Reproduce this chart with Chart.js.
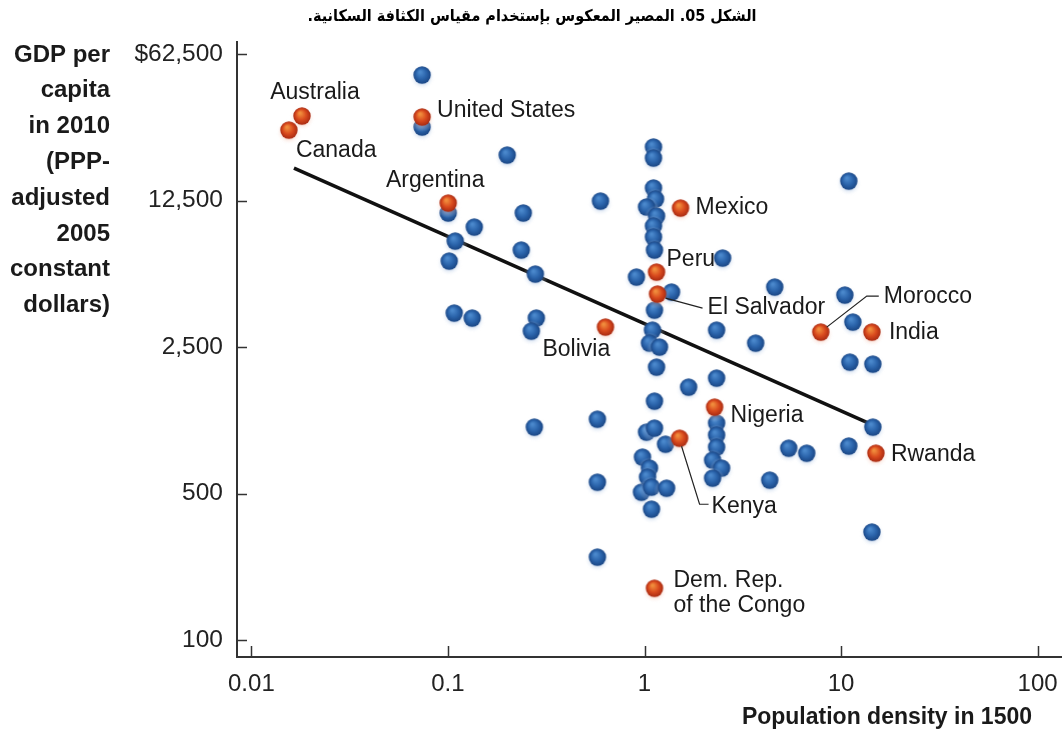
<!DOCTYPE html>
<html>
<head>
<meta charset="utf-8">
<script src="https://cdn.jsdelivr.net/npm/chart.js@4.4.1/dist/chart.umd.min.js"></script>
<style>
  html, body { margin: 0; padding: 0; background: #fff; }
  #wrap { width: 1064px; height: 740px; position: relative; }
</style>
</head>
<body>
<div id="wrap"><canvas id="densityChart" width="1064" height="740"></canvas></div>
<script>
// Achsen
var chartTitle = 'الشكل 05. المصير المعكوس بإستخدام مقياس الكثافة السكانية.';
var yTitleLines = ['GDP per', 'capita', 'in 2010', '(PPP-', 'adjusted', '2005', 'constant', 'dollars)'];
var xTitle = 'Population density in 1500';
var xTicks = [0.01, 0.1, 1, 10, 100];
var xTickLabels = ['0.01', '0.1', '1', '10', '100'];
var yTicks = [100, 500, 2500, 12500, 62500];
var yTickLabels = ['100', '500', '2,500', '12,500', '$62,500'];

// Laender ohne Beschriftung (blau)
var blueX = [0.0739, 0.0739, 0.2003, 1.111, 1.111, 1.111, 1.138, 1.024, 1.151, 1.111,
  1.111, 1.124, 0.597, 0.2417, 0.1003, 0.1361, 0.1089, 0.2361, 0.1015, 0.2783,
  0.9104, 0.1076, 0.1329, 0.2816, 0.2656, 2.497, 1.373, 1.124, 1.098, 1.060,
  1.192, 1.151, 4.597, 10.45, 11.48, 2.327, 3.678, 11.08, 14.51, 10.95,
  1.676, 2.327, 1.124, 14.51, 10.95, 5.418, 6.69, 4.335, 0.2751, 0.5761,
  1.024, 1.124, 1.279, 2.327, 2.327, 2.327, 2.221, 2.468, 2.221, 0.5761,
  0.9768, 1.060, 1.036, 0.9654, 1.086, 1.295, 1.086, 0.5761, 14.35];
var blueY = [49620, 28020, 20600, 22500, 19930, 14340, 12700, 11640, 10540, 9445,
  8370, 7257, 12430, 10900, 10900, 9342, 8010, 7257, 6430, 5574,
  5394, 3632, 3438, 3438, 2980, 6644, 4574, 3753, 3013, 2612,
  2500, 2007, 4833, 4426, 3290, 3013, 2612, 2120, 2074, 15480,
  1611, 1778, 1381, 1038, 843, 824, 780, 580, 1038, 1133,
  983, 1027, 861, 1085, 951, 833, 722, 662, 593, 567,
  747, 662, 599, 508, 537, 531, 422, 249, 328];

// Beschriftete Laender (rot)
var redNames = ['Australia', 'Canada', 'United States', 'Argentina', 'Mexico', 'Peru',
  'El Salvador', 'Bolivia', 'Morocco', 'India', 'Nigeria', 'Kenya', 'Rwanda',
  'Dem. Rep.\nof the Congo'];
var redX = [0.01809, 0.01552, 0.0739, 0.1003, 1.525, 1.151, 1.165, 0.633, 7.885, 14.35,
  2.273, 1.508, 15.04, 1.124];
var redY = [31620, 27100, 31280, 12160, 11510, 5698, 4476, 3114, 2948, 2948,
  1293, 919, 780, 177];

// Regressionsgerade
var fitX = [0.01647, 15.75];
var fitY = [17860, 1027];

// Platzierung der Beschriftungen (Pixelversatz zum Punkt)
var labelPlacement = {
  'Australia': { dx: 13, dy: -23, align: 'center' },
  'Canada': { dx: 7, dy: 21, align: 'left' },
  'United States': { dx: 15, dy: -6, align: 'left' },
  'Argentina': { dx: -13, dy: -22, align: 'center' },
  'Mexico': { dx: 15, dy: 0, align: 'left' },
  'Peru': { dx: 10, dy: -12, align: 'left' },
  'El Salvador': { dx: 50, dy: 14, align: 'left', leader: [[8, 4], [45, 14]] },
  'Bolivia': { dx: -63, dy: 23, align: 'left' },
  'Morocco': { dx: 63, dy: -35, align: 'left', leader: [[6, -5], [46, -36], [58, -36]] },
  'India': { dx: 17, dy: 1, align: 'left' },
  'Nigeria': { dx: 16, dy: 8, align: 'left' },
  'Kenya': { dx: 32, dy: 68, align: 'left', leader: [[2, 8], [20, 66], [29, 66]] },
  'Rwanda': { dx: 15, dy: 1, align: 'left' },
  'Dem. Rep.\nof the Congo': { dx: 19, dy: -8, align: 'left' }
};

var FONT = "'Liberation Sans', Arial, Helvetica, sans-serif";

// Kugel-Symbol zeichnen
function makeBall(light, mid, dark, halo) {
  var c = document.createElement('canvas');
  c.width = 30; c.height = 30;
  var g = c.getContext('2d');
  var h = g.createRadialGradient(15, 17, 5, 15, 17, 13);
  h.addColorStop(0, halo);
  h.addColorStop(1, 'rgba(255,255,255,0)');
  g.fillStyle = h;
  g.fillRect(0, 0, 30, 30);
  var grad = g.createRadialGradient(13, 12, 1, 15, 15, 8.8);
  grad.addColorStop(0, light);
  grad.addColorStop(0.55, mid);
  grad.addColorStop(1, dark);
  g.beginPath();
  g.arc(15, 15, 8.7, 0, Math.PI * 2);
  g.fillStyle = grad;
  g.fill();
  return c;
}

var blueBall = makeBall('#4a88cc', '#2a63aa', '#1a4684', 'rgba(110,150,205,0.45)');
var redBall = makeBall('#f08c3c', '#d8491d', '#a82a12', 'rgba(235,150,120,0.45)');

function toPoints(xs, ys) {
  return xs.map(function(x, i) { return { x: x, y: ys[i] }; });
}

// Texte, Ticks und Beschriftungen
var decorPlugin = {
  id: 'decor',
  afterDatasetsDraw: function(chart) {
    var ctx = chart.ctx;
    var xs = chart.scales.x, ys = chart.scales.y;
    var area = chart.chartArea;
    ctx.save();

    // Ticks nach innen
    ctx.strokeStyle = '#333';
    ctx.lineWidth = 1.5;
    yTicks.forEach(function(v) {
      var py = Math.round(ys.getPixelForValue(v)) + 0.5;
      ctx.beginPath(); ctx.moveTo(area.left, py); ctx.lineTo(area.left + 10, py); ctx.stroke();
    });
    xTicks.forEach(function(v) {
      var px = Math.round(xs.getPixelForValue(v)) + 0.5;
      ctx.beginPath(); ctx.moveTo(px, area.bottom); ctx.lineTo(px, area.bottom - 11); ctx.stroke();
    });

    // Beschriftungen der roten Punkte
    ctx.fillStyle = '#1a1a1a';
    ctx.font = '23px ' + FONT;
    ctx.textBaseline = 'middle';
    redNames.forEach(function(name, i) {
      var p = labelPlacement[name];
      var px = xs.getPixelForValue(redX[i]);
      var py = ys.getPixelForValue(redY[i]);
      if (p.leader) {
        ctx.strokeStyle = '#222';
        ctx.lineWidth = 1.2;
        ctx.beginPath();
        p.leader.forEach(function(pt, k) {
          if (k === 0) ctx.moveTo(px + pt[0], py + pt[1]);
          else ctx.lineTo(px + pt[0], py + pt[1]);
        });
        ctx.stroke();
      }
      ctx.textAlign = p.align;
      name.split('\n').forEach(function(line, k) {
        ctx.fillText(line, px + p.dx, py + p.dy + k * 25);
      });
    });

    // Titel
    ctx.font = 'bold 16px "DejaVu Sans Condensed", "DejaVu Sans", sans-serif';
    ctx.textAlign = 'center';
    ctx.direction = 'rtl';
    ctx.fillStyle = '#000';
    ctx.fillText(chartTitle, 532, 17);
    ctx.direction = 'ltr';

    // Achsentitel
    ctx.fillStyle = '#1a1a1a';
    ctx.font = 'bold 24px ' + FONT;
    ctx.textAlign = 'right';
    yTitleLines.forEach(function(line, k) {
      ctx.fillText(line, 110, 55 + k * 35.8);
    });
    ctx.font = 'bold 23px ' + FONT;
    ctx.fillText(xTitle, 1032, 718);
    ctx.restore();
  }
};

var ctx = document.getElementById('densityChart').getContext('2d');
new Chart(ctx, {
  type: 'scatter',
  data: {
    datasets: [
      {
        type: 'line',
        label: 'fit',
        data: toPoints(fitX, fitY),
        borderColor: '#111',
        borderWidth: 3.5,
        pointRadius: 0,
        fill: false,
        order: 3
      },
      {
        label: 'countries',
        data: toPoints(blueX, blueY),
        pointStyle: blueBall,
        pointRadius: 8,
        order: 2
      },
      {
        label: 'labelled',
        data: toPoints(redX, redY),
        pointStyle: redBall,
        pointRadius: 8,
        order: 1
      }
    ]
  },
  options: {
    responsive: false,
    animation: false,
    events: [],
    layout: { autoPadding: false, padding: { top: 42, right: 3, left: 0, bottom: 0 } },
    plugins: {
      legend: { display: false },
      tooltip: { enabled: false },
      title: { display: false }
    },
    scales: {
      x: {
        type: 'logarithmic',
        min: 0.00845,
        max: 131.5,
        afterBuildTicks: function(scale) {
          scale.ticks = xTicks.map(function(v) { return { value: v }; });
        },
        afterFit: function(scale) {
          scale.height = 83;
          scale.paddingLeft = 0;
          scale.paddingRight = 0;
        },
        ticks: {
          autoSkip: false,
          maxRotation: 0,
          padding: 13,
          color: '#222',
          font: { family: FONT, size: 24 },
          callback: function(value, index) { return xTickLabels[index]; }
        },
        grid: { display: false, drawTicks: false },
        border: { display: true, color: '#333', width: 2 }
      },
      y: {
        type: 'logarithmic',
        min: 83.2,
        max: 71300,
        afterBuildTicks: function(scale) {
          scale.ticks = yTicks.map(function(v) { return { value: v }; });
        },
        afterFit: function(scale) {
          scale.width = 237;
          scale.paddingTop = 0;
          scale.paddingBottom = 0;
        },
        ticks: {
          autoSkip: false,
          padding: 14,
          color: '#222',
          font: { family: FONT, size: 24.5 },
          callback: function(value, index) { return yTickLabels[index]; }
        },
        grid: { display: false, drawTicks: false },
        border: { display: true, color: '#333', width: 2 }
      }
    }
  },
  plugins: [decorPlugin]
});
</script>
</body>
</html>
